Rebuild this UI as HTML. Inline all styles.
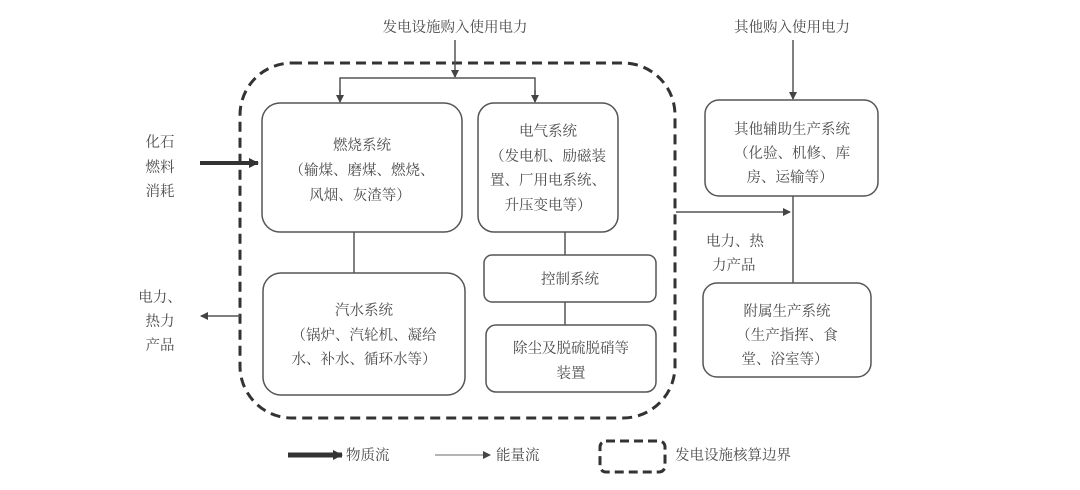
<!DOCTYPE html>
<html><head><meta charset="utf-8"><style>
html,body{margin:0;padding:0;background:#fff;}
svg{display:block;}
text{font-family:"Liberation Serif","Noto Serif CJK SC",serif;font-size:14.5px;fill:#4a4a4a;}
</style></head><body>
<svg width="1080" height="490" viewBox="0 0 1080 490" xmlns="http://www.w3.org/2000/svg">
<defs>
<marker id="a" markerWidth="8" markerHeight="8" refX="7" refY="4" orient="auto" markerUnits="userSpaceOnUse"><path d="M0,0 L8,4 L0,8 z" fill="#444"/></marker>
<marker id="b" markerWidth="10" markerHeight="10" refX="9" refY="5" orient="auto" markerUnits="userSpaceOnUse"><path d="M0,0 L10,5 L0,10 z" fill="#333"/></marker>
</defs>
<g fill="none" stroke="#555" stroke-width="1.5">
<rect x="240" y="63" width="435" height="355" rx="52" stroke="#333" stroke-width="3" stroke-dasharray="10,6"/>
<rect x="262" y="103" width="200" height="129" rx="18"/>
<rect x="478" y="103" width="140" height="129" rx="16"/>
<rect x="263" y="273" width="202" height="122" rx="18"/>
<rect x="484" y="255" width="172" height="47" rx="8"/>
<rect x="486" y="325" width="170" height="67" rx="10"/>
<rect x="705" y="100" width="173" height="96" rx="14"/>
<rect x="703" y="283" width="168" height="94" rx="14"/>
<line x1="354" y1="232" x2="354" y2="273"/>
<line x1="565" y1="232" x2="565" y2="255"/>
<line x1="565" y1="302" x2="565" y2="325"/>
<line x1="793" y1="196" x2="793" y2="283"/>
<line x1="455" y1="40" x2="455" y2="77" marker-end="url(#a)"/>
<polyline points="340,101 340,78 535,78 535,101"/>
<line x1="340" y1="90" x2="340" y2="102" marker-end="url(#a)"/>
<line x1="535" y1="90" x2="535" y2="102" marker-end="url(#a)"/>
<line x1="793" y1="40" x2="793" y2="99" marker-end="url(#a)"/>
<line x1="676" y1="212" x2="790" y2="212" marker-end="url(#a)"/>
<line x1="240" y1="316" x2="201" y2="316" marker-end="url(#a)"/>
<line x1="200" y1="163" x2="258" y2="163" stroke="#333" stroke-width="4" marker-end="url(#b)"/>
<line x1="288" y1="455" x2="342" y2="455" stroke="#333" stroke-width="5" marker-end="url(#b)"/>
<line x1="435" y1="455" x2="490" y2="455" stroke="#888" stroke-width="1.2" marker-end="url(#a)"/>
<rect x="600" y="441" width="65" height="31" rx="6" stroke="#333" stroke-width="3" stroke-dasharray="9,5"/>
</g>
<g text-anchor="middle">
<text x="455" y="32">发电设施购入使用电力</text>
<text x="792" y="32">其他购入使用电力</text>
<text x="362" y="150">燃烧系统</text>
<text x="362" y="175">（输煤、磨煤、燃烧、</text>
<text x="360" y="200">风烟、灰渣等）</text>
<text x="548" y="136">电气系统</text>
<text x="548" y="161">（发电机、励磁装</text>
<text x="548" y="185">置、厂用电系统、</text>
<text x="548" y="210">升压变电等）</text>
<text x="364" y="315">汽水系统</text>
<text x="364" y="340">（锅炉、汽轮机、凝给</text>
<text x="364" y="364">水、补水、循环水等）</text>
<text x="570" y="284">控制系统</text>
<text x="571" y="353">除尘及脱硫脱硝等</text>
<text x="571" y="378">装置</text>
<text x="792" y="134">其他辅助生产系统</text>
<text x="792" y="158">（化验、机修、库</text>
<text x="790" y="182">房、运输等）</text>
<text x="787" y="316">附属生产系统</text>
<text x="787" y="340">（生产指挥、食</text>
<text x="785" y="364">堂、浴室等）</text>
<text x="160" y="147">化石</text>
<text x="160" y="172">燃料</text>
<text x="160" y="196">消耗</text>
<text x="160" y="302">电力、</text>
<text x="160" y="326">热力</text>
<text x="160" y="350">产品</text>
</g>
<text x="706" y="246">电力、热</text>
<text x="712" y="270">力产品</text>
<text x="346" y="460">物质流</text>
<text x="496" y="460">能量流</text>
<text x="675" y="460">发电设施核算边界</text>
</svg>
</body></html>
